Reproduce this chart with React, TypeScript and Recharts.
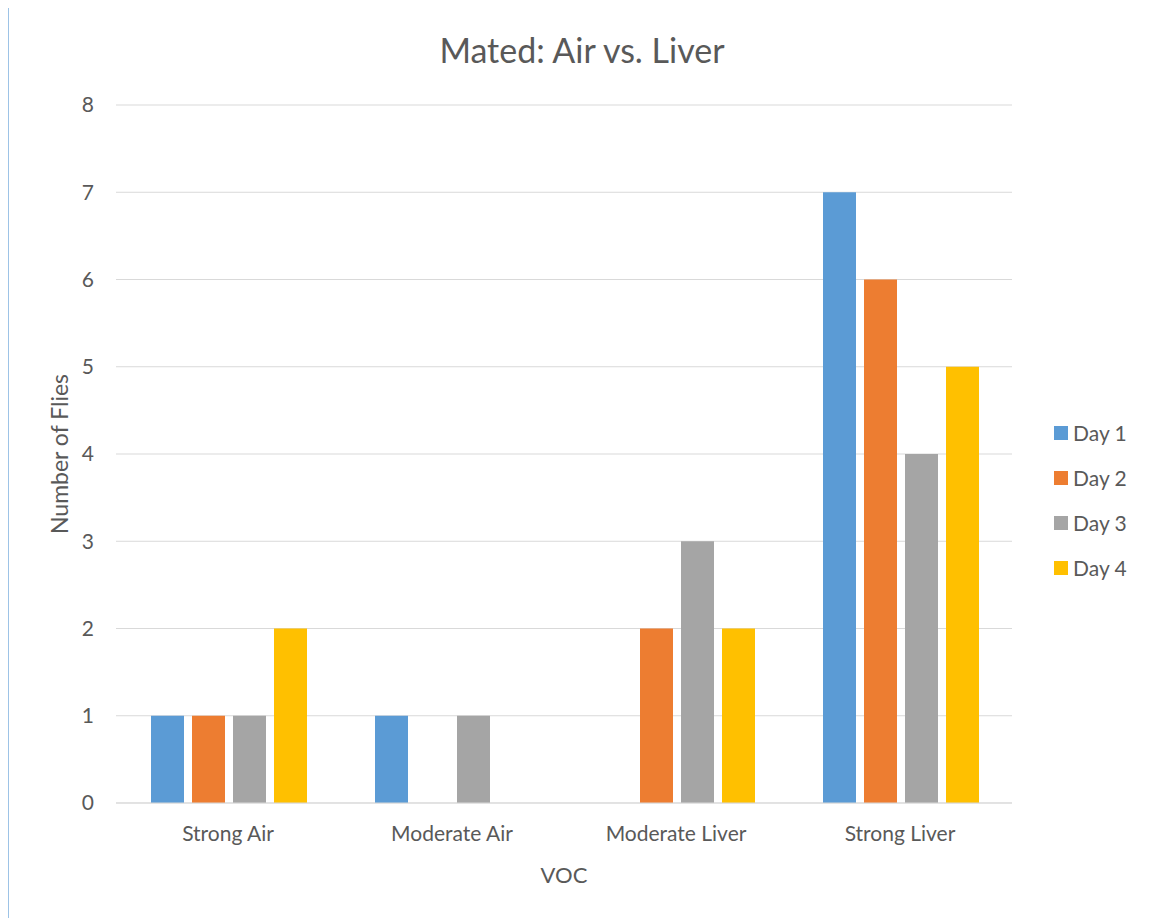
import React from 'react';
import {
  BarChart, CartesianGrid, XAxis, YAxis, Bar, Legend,
} from 'recharts';

const categories = ['Strong Air', 'Moderate Air', 'Moderate Liver', 'Strong Liver'];
const day1 = [1, 1, 0, 7];
const day2 = [1, 0, 2, 6];
const day3 = [1, 1, 3, 4];
const day4 = [2, 0, 2, 5];
const yTicks = [0, 1, 2, 3, 4, 5, 6, 7, 8];

const series = [
  { key: 'day1', name: 'Day 1', color: '#5b9bd5' },
  { key: 'day2', name: 'Day 2', color: '#ed7d31' },
  { key: 'day3', name: 'Day 3', color: '#a5a5a5' },
  { key: 'day4', name: 'Day 4', color: '#ffc000' },
];

const chartData = categories.map((name, i) => ({
  name,
  day1: day1[i],
  day2: day2[i],
  day3: day3[i],
  day4: day4[i],
}));

const FONT = 'Lato, "Open Sans", sans-serif';
const TEXT = '#595959';

const LegendBox = () => (
  <div style={{ fontFamily: FONT, fontSize: 21, color: TEXT }}>
    {series.map((s) => (
      <div key={s.key} style={{ display: 'flex', alignItems: 'center', height: 45 }}>
        <span style={{ width: 14, height: 14, background: s.color, marginRight: 5, display: 'inline-block' }} />
        <span>{s.name}</span>
      </div>
    ))}
  </div>
);

const App = () => {
  return (
    <div
      style={{
        position: 'relative',
        marginLeft: -1,
        marginTop: -2,
        borderLeft: '2px solid #9dc3e6',
        borderTop: '2px solid #9dc3e6',
        width: 1146,
        height: 910,
      }}
    >
      <div
        style={{
          position: 'absolute', top: 21, left: 0, width: '100%', textAlign: 'center',
          fontFamily: FONT, fontSize: 34, color: TEXT,
        }}
      >
        Mated: Air vs. Liver
      </div>
      <BarChart
        width={1146}
        height={910}
        data={chartData}
        margin={{ top: 97, right: 43, bottom: 0, left: 0 }}
        barCategoryGap={35}
        barGap={8}
      >
        <CartesianGrid vertical={false} stroke="#d9d9d9" />
        <XAxis
          dataKey="name"
          height={115}
          tickLine={false}
          tickSize={0}
          tickMargin={23}
          axisLine={{ stroke: '#d9d9d9' }}
          tick={{ fill: TEXT, fontSize: 21, fontFamily: FONT }}
          label={{ value: 'VOC', position: 'insideBottom', offset: 35, fill: TEXT, fontSize: 22, fontFamily: FONT }}
        />
        <YAxis
          width={107}
          domain={[0, 8]}
          ticks={yTicks}
          tickLine={false}
          axisLine={false}
          tickSize={0}
          tickMargin={22}
          tick={{ fill: TEXT, fontSize: 21, fontFamily: FONT }}
          label={{ value: 'Number of Flies', angle: -90, position: 'center', dx: -3, fill: TEXT, fontSize: 23, fontFamily: FONT }}
        />
        <Legend
          layout="vertical"
          align="right"
          verticalAlign="middle"
          content={<LegendBox />}
          wrapperStyle={{ left: 1045, top: 402, right: 'auto', width: 100 }}
        />
        {series.map((s) => (
          <Bar key={s.key} dataKey={s.key} name={s.name} fill={s.color} isAnimationActive={false} />
        ))}
      </BarChart>
    </div>
  );
};

export default App;
